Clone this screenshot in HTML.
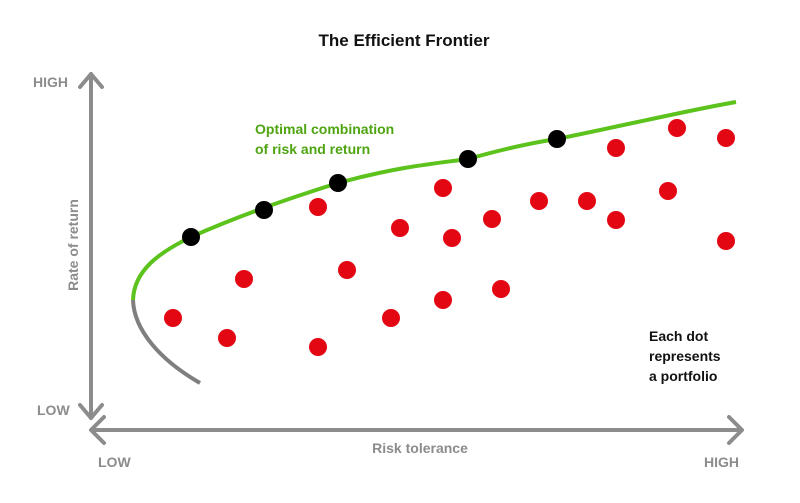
<!DOCTYPE html>
<html><head><style>body{margin:0;background:#fff}svg{display:block}</style></head><body>
<svg width="800" height="503" xmlns="http://www.w3.org/2000/svg" font-family="Liberation Sans, sans-serif">
<text x="404" y="46" font-size="17" font-weight="bold" text-anchor="middle" fill="#111">The Efficient Frontier</text>
<g stroke="#8c8c8c" stroke-width="4" fill="none" stroke-linecap="round" stroke-linejoin="round">
<line x1="91" y1="74" x2="91" y2="418"/>
<polyline points="80,87 91,74 102,87"/>
<polyline points="80,405 91,418 102,405"/>
<line x1="92" y1="430" x2="741" y2="430"/>
<polyline points="104,417 91,430 104,443"/>
<polyline points="729,417 742,430 729,443"/>
</g>
<g fill="#8c8c8c" font-size="14" font-weight="bold">
<text x="33" y="87">HIGH</text>
<text x="37" y="415">LOW</text>
<text x="98" y="467">LOW</text>
<text x="704" y="467">HIGH</text>
<text x="420" y="453" text-anchor="middle">Risk tolerance</text>
<text transform="translate(78,245) rotate(-90)" text-anchor="middle">Rate of return</text>
</g>
<path d="M133,300 C134,330 160,360 200,383" stroke="#7f7f7f" stroke-width="4" fill="none"/>
<path d="M133,300 C134,270 160,252 191,237 C240,215 290,198 338,183 C400,166 440,163 468,159 C500,150 530,143 557,139 C640,122 690,110 736,102" stroke="#5cc21c" stroke-width="4" fill="none"/>
<g fill="#4ea411" font-size="14" font-weight="bold">
<text x="255" y="134">Optimal combination</text>
<text x="255" y="154">of risk and return</text>
</g>
<g fill="#e30613">
<circle cx="173" cy="318" r="9"/><circle cx="227" cy="338" r="9"/><circle cx="244" cy="279" r="9"/>
<circle cx="318" cy="207" r="9"/><circle cx="318" cy="347" r="9"/><circle cx="347" cy="270" r="9"/>
<circle cx="391" cy="318" r="9"/><circle cx="400" cy="228" r="9"/><circle cx="443" cy="188" r="9"/>
<circle cx="443" cy="300" r="9"/><circle cx="452" cy="238" r="9"/><circle cx="492" cy="219" r="9"/>
<circle cx="501" cy="289" r="9"/><circle cx="539" cy="201" r="9"/><circle cx="587" cy="201" r="9"/>
<circle cx="616" cy="148" r="9"/><circle cx="616" cy="220" r="9"/><circle cx="668" cy="191" r="9"/>
<circle cx="677" cy="128" r="9"/><circle cx="726" cy="138" r="9"/><circle cx="726" cy="241" r="9"/>
</g>
<g fill="#000">
<circle cx="191" cy="237" r="9"/><circle cx="264" cy="210" r="9"/><circle cx="338" cy="183" r="9"/>
<circle cx="468" cy="159" r="9"/><circle cx="557" cy="139" r="9"/>
</g>
<g fill="#111" font-size="14" font-weight="bold">
<text x="649" y="341">Each dot</text>
<text x="649" y="361">represents</text>
<text x="649" y="381">a portfolio</text>
</g>
</svg>
</body></html>
